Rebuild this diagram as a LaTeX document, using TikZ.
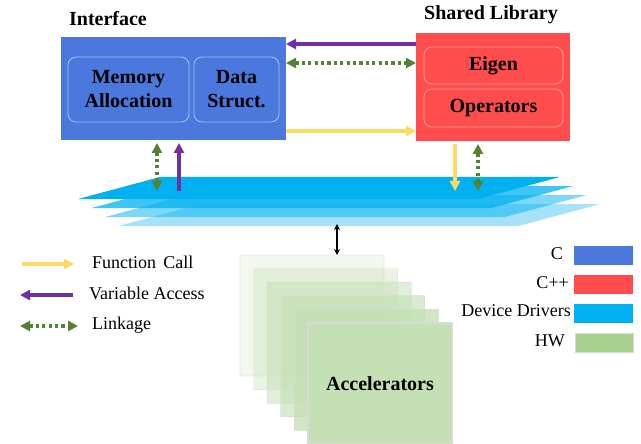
\documentclass[tikz,border=0pt]{standalone}
\usepackage{fontspec}
\setmainfont{Liberation Serif}
\usetikzlibrary{arrows.meta}

\definecolor{cblue}{RGB}{74,120,220}
\definecolor{cred}{RGB}{255,76,76}
\definecolor{ddblue}{RGB}{0,176,240}
\definecolor{hwgreen}{RGB}{169,209,142}
\definecolor{accgreen}{RGB}{197,224,180}
\definecolor{vpurple}{RGB}{112,48,160}
\definecolor{fyellow}{RGB}{255,217,102}
\definecolor{lgreen}{RGB}{84,130,53}

\tikzset{
  box/.style={inner sep=0pt, outer sep=0pt, align=center},
  title/.style={font=\fontsize{20}{22}\selectfont\bfseries},
  inner/.style={box, rounded corners=8pt, draw=white, draw opacity=0.55,
    line width=0.8pt, font=\fontsize{20}{24}\selectfont\bfseries},
  legtext/.style={font=\fontsize{18}{21}\selectfont, inner sep=0pt},
  fcall/.style={draw=fyellow, line width=3.2pt, -{Triangle[length=10pt,width=10pt]}},
  vaccess/.style={draw=vpurple, line width=3.2pt, -{Triangle[length=10pt,width=10pt]}},
  linkage/.style={draw=lgreen, line width=3.2pt, dash pattern=on 3.2pt off 3.2pt,
    {Triangle[length=10pt,width=10pt]}-{Triangle[length=10pt,width=10pt]}},
  accbox/.style={box, draw=black!15, line width=1.2pt, fill=accgreen,
    minimum width=144pt, minimum height=121pt},
  swatch/.style={box, minimum width=59pt, minimum height=19pt},
}

\begin{document}
\begin{tikzpicture}[x=1pt,y=-1pt]
\useasboundingbox (0,0) rectangle (641,444);

% Interface (C) block
\node[box, fill=cblue, minimum width=225pt, minimum height=103pt] (iface) at (173.5,88.5) {};
\node[title] (ifacet) at (108,19) {Interface};
\node[inner, minimum width=121pt, minimum height=65pt] (mem) at (128.5,89.5) {Memory\\Allocation};
\node[inner, minimum width=85pt, minimum height=65pt] (ds) at (236.5,89.5) {Data\\Struct.};

% Shared library (C++) block
\node[box, fill=cred, minimum width=154pt, minimum height=108pt] (lib) at (493,87) {};
\node[title] (libt) at (491,15) {Shared Library};
\node[inner, draw opacity=0.45, minimum width=139pt, minimum height=37pt] (eigen) at (493.5,65.5) {Eigen};
\node[inner, draw opacity=0.45, minimum width=139pt, minimum height=38pt] (ops) at (493.5,108) {Operators};

% Device driver layers, back to front
\foreach \i/\op in {3/0.35,2/0.5,1/0.75,0/1}{
  \fill[ddblue, fill opacity=\op, shift={(13.5*\i,9*\i)}]
    (78,199) -- (478,199) -- (560,177) -- (160,177) -- cycle;
}
\coordinate (drvL1) at (157,191);
\coordinate (drvL2) at (179,191);
\coordinate (drvR1) at (455,191);
\coordinate (drvR2) at (478,191);
\coordinate (drvbase) at (337,224);

% Accelerator stack, back to front
\foreach \i/\op in {0/0.22,1/0.38,2/0.52,3/0.66,4/0.8}{
  \node[accbox, fill opacity=\op, draw opacity=\op] (acc\i) at (312+13.6*\i,315.5+13.6*\i) {};
}
\node[accbox, font=\fontsize{20}{22}\selectfont\bfseries] (acc5) at (380,383.5) {\raisebox{-4pt}{Accelerators}};

% Connectors between the blocks
\draw[vaccess] (lib.west |- 0,44) -- (iface.east |- 0,44);
\draw[linkage] (iface.east |- 0,63) -- (lib.west |- 0,63);
\draw[fcall] (iface.east |- 0,131) -- (lib.west |- 0,131);

\draw[linkage] ([yshift=-3pt]iface.south -| drvL1) -- (drvL1);
\draw[vaccess] (drvL2) -- ([yshift=-3pt]iface.south -| drvL2);
\draw[fcall] ([yshift=-3pt]lib.south -| drvR1) -- (drvR1);
\draw[linkage] ([yshift=-3pt]lib.south -| drvR2) -- (drvR2);

\draw[line width=1.5pt, {Stealth[length=6pt,width=6pt]}-{Stealth[length=6pt,width=6pt]}]
  (drvbase) -- (acc0.north -| drvbase);

% Connector legend
\coordinate (lf1) at (22,264);  \coordinate (lf2) at (74,264);
\coordinate (lv1) at (73,295);  \coordinate (lv2) at (20,295);
\coordinate (ll1) at (20,326);  \coordinate (ll2) at (78,326);
\draw[fcall] (lf1) -- (lf2);
\draw[vaccess] (lv1) -- (lv2);
\draw[linkage] (ll1) -- (ll2);
\node[legtext, anchor=west] (lft) at (92,262) {Function\hspace{0.4em}Call};
\node[legtext, anchor=west] (lvt) at (89,293) {Variable Access};
\node[legtext, anchor=west] (llt) at (92,325) {Linkage};

% Colour legend
\node[swatch, fill=cblue] (sc) at (603.5,255) {};
\node[swatch, fill=cred] (scpp) at (603.5,284.5) {};
\node[swatch, fill=ddblue] (sdd) at (603.5,313.5) {};
\node[swatch, fill=hwgreen, draw=black!15, line width=1pt, minimum width=58pt] (shw) at (604,342.5) {};
\node[legtext, anchor=east] (tc) at (563,254) {C};
\node[legtext, anchor=east] (tcpp) at (569,283) {C++};
\node[legtext, anchor=east] (tdd) at (571,311) {Device Drivers};
\node[legtext, anchor=east] (thw) at (565,341) {HW};
\end{tikzpicture}
\end{document}
